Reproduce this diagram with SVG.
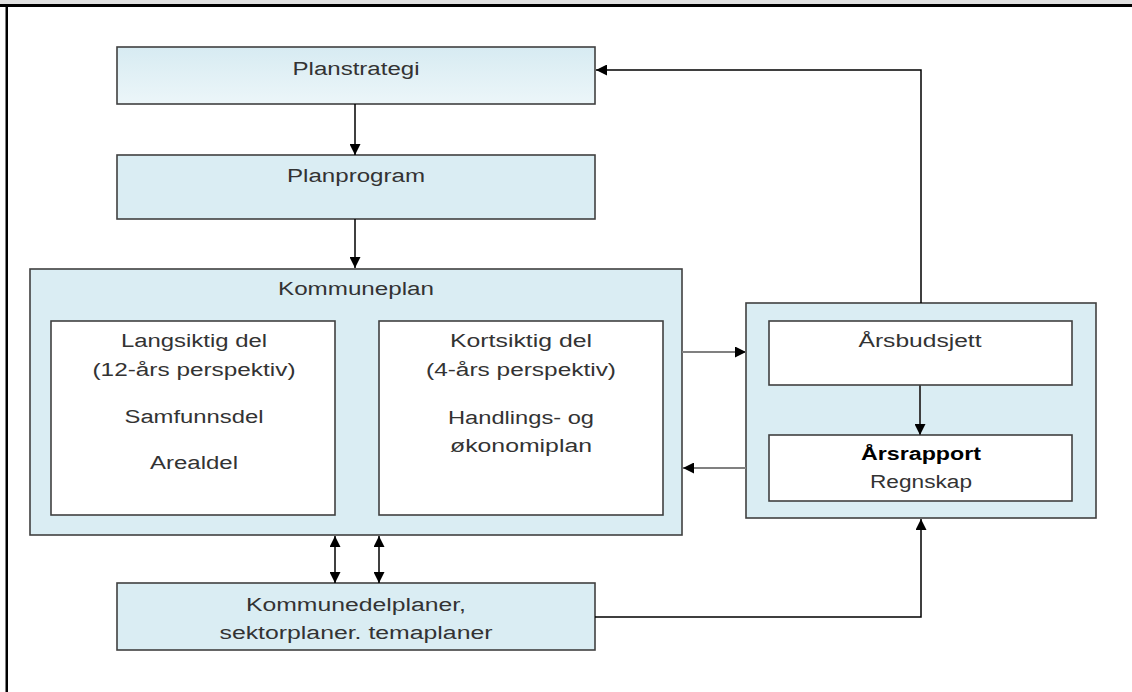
<svg xmlns="http://www.w3.org/2000/svg" width="1132" height="692" viewBox="0 0 1132 692">
<style>
.box{fill:#daedf3;stroke:#404040;stroke-width:1.6}
.inner{fill:#ffffff;stroke:#404040;stroke-width:1.6}
.t{font-family:"Liberation Sans",Arial,sans-serif;font-size:18px;fill:#333333;text-anchor:middle}
.b{font-weight:bold;fill:#000000}
.c{fill:none;stroke:#000000;stroke-width:1.5}
.g{fill:none;stroke:#808080;stroke-width:2}
.d{fill:none;stroke:#404040;stroke-width:2}
</style>
<defs>
<linearGradient id="grad1" x1="0" y1="0" x2="0" y2="1">
<stop offset="0" stop-color="#d7ebf2"/>
<stop offset="1" stop-color="#ecf6f9"/>
</linearGradient>
<marker id="ah" viewBox="0 0 10 10" refX="10" refY="5" markerWidth="11" markerHeight="11" markerUnits="userSpaceOnUse" orient="auto-start-reverse">
<path d="M0,0 L10,5 L0,10 z" fill="#000000"/>
</marker>
</defs>
<rect x="0" y="0" width="1132" height="692" fill="#ffffff"/>
<g id="frame">
<rect x="0" y="0" width="1132" height="4" fill="#e0e0e0"/>
<line x1="0" y1="5.5" x2="1132" y2="5.5" stroke="#000000" stroke-width="3"/>
<line x1="6.75" y1="4" x2="6.75" y2="692" stroke="#000000" stroke-width="2.5"/>
</g>
<g id="planstrategi">
<rect x="117" y="47" width="478" height="57" fill="url(#grad1)" stroke="#404040" stroke-width="1.6"/>
<text class="t" x="356" y="75" textLength="127" lengthAdjust="spacingAndGlyphs">Planstrategi</text>
</g>
<g id="planprogram">
<rect class="box" x="117" y="155" width="478" height="64"/>
<text class="t" x="356" y="182" textLength="138" lengthAdjust="spacingAndGlyphs">Planprogram</text>
</g>
<g id="kommuneplan">
<rect class="box" x="30" y="269" width="652" height="266"/>
<text class="t" x="356" y="295" textLength="156" lengthAdjust="spacingAndGlyphs">Kommuneplan</text>
</g>
<g id="langsiktig">
<rect class="inner" x="51" y="321" width="284" height="194"/>
<text class="t" x="194" y="347" textLength="146" lengthAdjust="spacingAndGlyphs">Langsiktig del</text>
<text class="t" x="194" y="376" textLength="203" lengthAdjust="spacingAndGlyphs">(12-års perspektiv)</text>
<text class="t" x="194" y="423" textLength="139" lengthAdjust="spacingAndGlyphs">Samfunnsdel</text>
<text class="t" x="194" y="469" textLength="88" lengthAdjust="spacingAndGlyphs">Arealdel</text>
</g>
<g id="kortsiktig">
<rect class="inner" x="379" y="321" width="284" height="194"/>
<text class="t" x="521" y="347" textLength="142" lengthAdjust="spacingAndGlyphs">Kortsiktig del</text>
<text class="t" x="521" y="376" textLength="190" lengthAdjust="spacingAndGlyphs">(4-års perspektiv)</text>
<text class="t" x="521" y="424" textLength="146" lengthAdjust="spacingAndGlyphs">Handlings- og</text>
<text class="t" x="521" y="452" textLength="142" lengthAdjust="spacingAndGlyphs">økonomiplan</text>
</g>
<g id="okonomi">
<rect class="box" x="746" y="303" width="350" height="215"/>
</g>
<g id="arsbudsjett">
<rect class="inner" x="769" y="321" width="303" height="64"/>
<text class="t" x="920" y="347" textLength="123" lengthAdjust="spacingAndGlyphs">Årsbudsjett</text>
</g>
<g id="arsrapport">
<rect class="inner" x="769" y="435" width="303" height="66"/>
<text class="t b" x="921" y="460" textLength="120" lengthAdjust="spacingAndGlyphs">Årsrapport</text>
<text class="t" x="921" y="488" textLength="102" lengthAdjust="spacingAndGlyphs">Regnskap</text>
</g>
<g id="kommunedelplaner">
<rect class="box" x="117" y="583" width="478" height="67"/>
<text class="t" x="356" y="611" textLength="220" lengthAdjust="spacingAndGlyphs">Kommunedelplaner,</text>
<text class="t" x="356" y="639" textLength="273" lengthAdjust="spacingAndGlyphs">sektorplaner. temaplaner</text>
</g>
<g id="connectors">
<path class="c" d="M355,104 L355,155" marker-end="url(#ah)"/>
<path class="c" d="M355,219 L355,268" marker-end="url(#ah)"/>
<path class="g" d="M682,352 L746,352" marker-end="url(#ah)"/>
<path class="g" d="M746,468 L683,468" marker-end="url(#ah)"/>
<path class="d" d="M920,385 L920,435" marker-end="url(#ah)"/>
<path class="c" d="M921,303 L921,70 L596,70" marker-end="url(#ah)"/>
<path class="c" d="M595,617 L921,617 L921,519" marker-end="url(#ah)"/>
<path class="c" d="M335,536 L335,583" marker-start="url(#ah)" marker-end="url(#ah)"/>
<path class="c" d="M379,536 L379,583" marker-start="url(#ah)" marker-end="url(#ah)"/>
</g>
</svg>
